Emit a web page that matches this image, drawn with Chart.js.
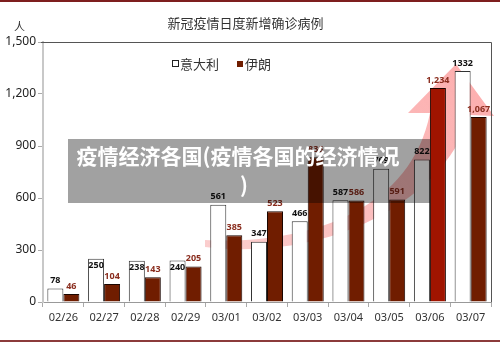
<!DOCTYPE html>
<html>
<head>
<meta charset="utf-8">
<script src="https://cdn.jsdelivr.net/npm/chart.js@4.4.1/dist/chart.umd.min.js"></script>
<style>
  html, body { margin: 0; padding: 0; background: #fff; }
  #wrap { position: relative; width: 500px; height: 344px; overflow: hidden; background: #fff; }
  #c { position: absolute; left: 0; top: 0; }
  .rule-top { position: absolute; left: 0; top: 0; width: 500px; height: 2px; background: #7e1e1e; }
  .rule-bot { position: absolute; left: 0; top: 340px; width: 500px; height: 2px; background: #8c3b3b; }
  #unit { position: absolute; left: 14px; top: 18px; font: 11px "Noto Sans CJK SC", sans-serif; color: #333; }
  #overlay { position: absolute; left: 68px; top: 139px; width: 362px; height: 64px; background: rgba(0,0,0,0.37); }
  #overlay div { position: absolute; left: 0; top: 2px; width: 340px; text-align: center;
    font: bold 21px/29px "Noto Sans CJK SC", sans-serif; color: #fff; white-space: nowrap; }
  #overlay span { position: relative; left: 6px; }
</style>
</head>
<body>
<div id="wrap">
  <canvas id="c" width="500" height="344"></canvas>
  <div class="rule-top"></div>
  <div class="rule-bot"></div>
  <div id="unit">人</div>
  <div id="overlay"><div>疫情经济各国(疫情各国的经济情况<br><span>)</span></div></div>
</div>
<script>
const titleText = '新冠疫情日度新增确诊病例';
const categories = ['02/26','02/27','02/28','02/29','03/01','03/02','03/03','03/04','03/05','03/06','03/07'];
const seriesNames = ['意大利', '伊朗'];
const italyCases = [78, 250, 238, 240, 561, 347, 466, 587, 769, 822, 1332];
const iranCases = [46, 104, 143, 205, 385, 523, 835, 586, 591, 1234, 1067];
const yTicks = [0, 300, 600, 900, 1200, 1500];
// labels of these Italy points sit inside the bar top in the original
const italyLabelInside = [1, 2, 3];

const IRAN_COLOR = '#701d00';
const IRAN_HILITE = '#a01400';

const framePlugin = {
  id: 'frame',
  beforeDatasetsDraw(chart) {
    const ctx = chart.ctx;
    // decorative curved arrow (behind bars)
    ctx.save();
    const g = ctx.createLinearGradient(205, 243, 456, 70);
    g.addColorStop(0, 'rgba(240,90,90,0.30)');
    g.addColorStop(1, 'rgba(250,90,90,0.48)');
    ctx.fillStyle = g;
    ctx.beginPath();
    ctx.moveTo(205, 240);
    ctx.bezierCurveTo(300, 245, 410, 215, 430, 113);
    ctx.lineTo(408, 113);
    ctx.lineTo(456, 64);
    ctx.lineTo(494, 116);
    ctx.lineTo(470, 115);
    ctx.bezierCurveTo(445, 200, 330, 262, 205, 247);
    ctx.closePath();
    ctx.fill();
    ctx.restore();
  },
  afterDatasetsDraw(chart) {
    const ctx = chart.ctx;
    const a = chart.chartArea;
    ctx.save();
    // top and right frame
    ctx.strokeStyle = '#555';
    ctx.lineWidth = 1;
    ctx.beginPath();
    ctx.moveTo(a.left - 2, a.top + 0.5);
    ctx.lineTo(a.right + 0.5, a.top + 0.5);
    ctx.lineTo(a.right + 0.5, a.bottom);
    ctx.stroke();

    // value labels
    ctx.textAlign = 'center';
    ctx.textBaseline = 'middle';
    ctx.font = 'bold 9px "Noto Sans", sans-serif';
    const m0 = chart.getDatasetMeta(0), m1 = chart.getDatasetMeta(1);
    m0.data.forEach((bar, i) => {
      ctx.fillStyle = '#111';
      const inside = italyLabelInside.includes(i);
      ctx.fillText(String(italyCases[i]), bar.x, inside ? bar.y + 7 : bar.y - 8);
    });
    m1.data.forEach((bar, i) => {
      ctx.fillStyle = '#8a2d1e';
      ctx.fillText(iranCases[i].toLocaleString('en-US'), bar.x, bar.y - 8);
    });

    // legend inside plot
    ctx.textAlign = 'left';
    ctx.font = '13px "Noto Sans CJK SC", sans-serif';
    const ly = 64;
    ctx.fillStyle = '#fff';
    ctx.strokeStyle = '#222';
    ctx.fillRect(172.5, ly - 3.5, 6, 6);
    ctx.strokeRect(172.5, ly - 3.5, 6, 6);
    ctx.fillStyle = '#333';
    ctx.fillText(chart.data.datasets[0].label, 180, ly);
    ctx.fillStyle = IRAN_COLOR;
    ctx.fillRect(237, ly - 3, 6, 6);
    ctx.fillStyle = '#333';
    ctx.fillText(chart.data.datasets[1].label, 245, ly);
    ctx.restore();
  }
};

new Chart(document.getElementById('c'), {
  type: 'bar',
  data: {
    labels: categories,
    datasets: [
      { label: seriesNames[0], data: italyCases, backgroundColor: '#fff', borderColor: '#333', borderWidth: 1 },
      { label: seriesNames[1], data: iranCases,
        backgroundColor: ctx => ctx.dataIndex === 9 ? IRAN_HILITE : IRAN_COLOR,
        borderColor: '#1a0500', borderWidth: 1 }
    ]
  },
  options: {
    responsive: false,
    animation: false,
    devicePixelRatio: 1,
    layout: { padding: { top: 0, right: 9, bottom: 0, left: 0 } },
    datasets: { bar: { categoryPercentage: 0.786, barPercentage: 1.0 } },
    plugins: {
      legend: { display: false },
      tooltip: { enabled: false },
      title: { display: true, text: titleText, color: '#333',
        font: { family: '"Noto Sans CJK SC", sans-serif', size: 13, weight: 'normal' },
        padding: { top: 15, bottom: 11.4 } }
    },
    scales: {
      x: {
        offset: true,
        grid: { offset: true, drawOnChartArea: false, tickLength: 5, color: '#aaa' },
        border: { color: '#999', width: 1 },
        ticks: { color: '#333', font: { family: '"Noto Sans", sans-serif', size: 11 }, padding: 4, maxRotation: 0 },
        afterFit(s) { s.height = 42; }
      },
      y: {
        min: 0, max: 1500,
        afterBuildTicks(s) { s.ticks = yTicks.map(v => ({ value: v })); },
        grid: { drawOnChartArea: false, tickLength: 5, color: '#aaa' },
        border: { color: '#c8c8c8', width: 2 },
        ticks: { color: '#222', font: { family: '"Noto Sans", sans-serif', size: 12 }, padding: 2,
          callback: v => Number(v).toLocaleString('en-US') },
        afterFit(s) { s.width = 43; }
      }
    }
  },
  plugins: [framePlugin]
});
</script>
</body>
</html>
